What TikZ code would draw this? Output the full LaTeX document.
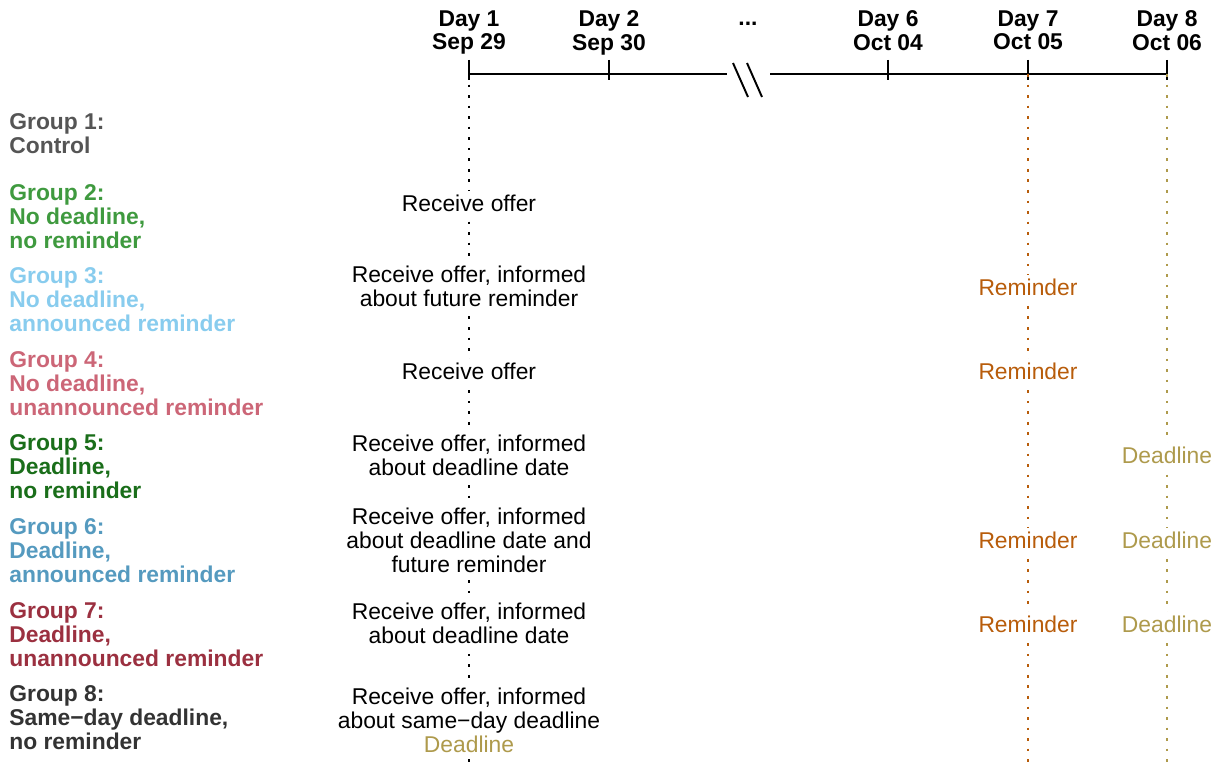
\documentclass[tikz,border=0pt]{standalone}
\usepackage{fontspec}
\setmainfont{Liberation Sans}
\usetikzlibrary{calc}

\definecolor{grpone}{HTML}{555555}
\definecolor{grptwo}{HTML}{3F9A3F}
\definecolor{grpthree}{HTML}{88CCEE}
\definecolor{grpfour}{HTML}{CC6677}
\definecolor{grpfive}{HTML}{1A6E1A}
\definecolor{grpsix}{HTML}{559ABF}
\definecolor{grpseven}{HTML}{9B3040}
\definecolor{grpeight}{HTML}{333333}
\definecolor{remind}{HTML}{B85C0A}
\definecolor{dline}{HTML}{AE9A4C}

\begin{document}
\begin{tikzpicture}[
  x=0.02cm,
  y=-0.02cm,
  font=\fontsize{13}{13.6}\selectfont,
  axis/.style={draw=black,line width=1.7pt},
  tick/.style={draw=black,line width=0.9pt},
  brk/.style={draw=black,line width=1.1pt},
  guide/.style={line width=1.5pt,dash pattern=on 1.5pt off 4.5pt},
  dayhead/.style={font=\fontsize{13}{13.6}\selectfont\bfseries,align=center,inner sep=0pt},
  grouplabel/.style={font=\fontsize{13}{13.6}\selectfont\bfseries,align=left,anchor=west,inner sep=0pt},
  event/.style={align=center,fill=white,inner sep=2pt}
]
\useasboundingbox (0,0) rectangle (1217,767);

% Day headers and ticks
\foreach \n/\x/\d in {1/469/Sep 29,2/609/Sep 30,6/888/Oct 04,7/1028/Oct 05,8/1167/Oct 06} {
  \coordinate (d\n) at (\x,74);
  \node[dayhead,anchor=north] (head\n) at (\x,10) {Day \n\\\d};
  \draw[tick] (\x,60) -- (\x,80);
}
\node[dayhead,anchor=base] (skip) at (748,26) {...};

% Timeline with break
\coordinate (brkL) at (727,74);
\coordinate (brkR) at (770,74);
\draw[axis] (d1) -- (brkL);
\draw[axis] (brkR) -- (d8);
\draw[brk] (733,63) -- (748,97);
\draw[brk] (747,63) -- (762,97);

% Guide lines down from the days
\coordinate (e1) at (469,767);
\coordinate (e7) at (1028,767);
\coordinate (e8) at (1167,767);
\draw[guide,draw=black] (d1) -- (e1);
\draw[guide,draw=remind] (d7) -- (e7);
\draw[guide,draw=dline] (d8) -- (e8);

% Group labels
\node[grouplabel,grpone] (g1) at (9,134) {Group 1:\\Control};
\node[grouplabel,grptwo] (g2) at (9,217) {Group 2:\\No deadline,\\no reminder};
\node[grouplabel,grpthree] (g3) at (9,300) {Group 3:\\No deadline,\\announced reminder};
\node[grouplabel,grpfour] (g4) at (9,384) {Group 4:\\No deadline,\\unannounced reminder};
\node[grouplabel,grpfive] (g5) at (9,467) {Group 5:\\Deadline,\\no reminder};
\node[grouplabel,grpsix] (g6) at (9,551) {Group 6:\\Deadline,\\announced reminder};
\node[grouplabel,grpseven] (g7) at (9,635) {Group 7:\\Deadline,\\unannounced reminder};
\node[grouplabel,grpeight] (g8) at (9,718) {Group 8:\\Same−day deadline,\\no reminder};

% Offer on day 1
\node[event] (o2) at (469,203) {Receive offer};
\node[event] (o3) at (469,286) {Receive offer, informed\\about future reminder};
\node[event] (o4) at (469,371) {Receive offer};
\node[event] (o5) at (469,455) {Receive offer, informed\\about deadline date};
\node[event] (o6) at (469,540) {Receive offer, informed\\about deadline date and\\future reminder};
\node[event] (o7) at (469,623) {Receive offer, informed\\about deadline date};
\node[event] (o8) at (469,720) {Receive offer, informed\\about same−day deadline\\\textcolor{dline}{Deadline}};

% Reminders on day 7
\node[event,text=remind] (r3) at (1028,287) {Reminder};
\node[event,text=remind] (r4) at (1028,371) {Reminder};
\node[event,text=remind] (r6) at (1028,540) {Reminder};
\node[event,text=remind] (r7) at (1028,624) {Reminder};

% Deadlines on day 8
\node[event,text=dline] (dl5) at (1167,455) {Deadline};
\node[event,text=dline] (dl6) at (1167,540) {Deadline};
\node[event,text=dline] (dl7) at (1167,624) {Deadline};

\end{tikzpicture}
\end{document}
